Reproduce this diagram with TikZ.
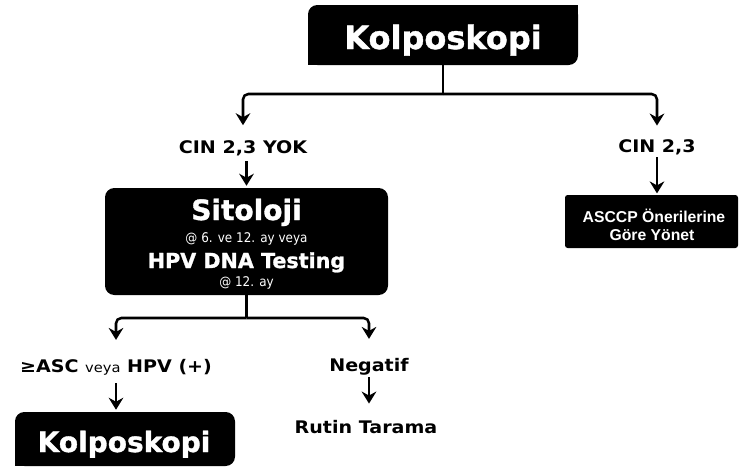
\documentclass[tikz,border=0pt]{standalone}
\usepackage{fontspec}
\setmainfont{DejaVu Sans}
\newfontfamily\lblfont[FakeStretch=1.1]{DejaVu Sans}
\newfontfamily\heavyfont[UprightFont=* Bold, FakeBold=1.2]{DejaVu Sans}
\newfontfamily\condfont[FakeStretch=0.9]{DejaVu Sans}
\newfontfamily\arialfont{Liberation Sans}
\usetikzlibrary{arrows.meta}

\begin{document}
\begin{tikzpicture}[x=0.75pt,y=-0.75pt,
  blackbox/.style={fill=black, inner sep=0pt, rounded corners=7pt},
  boxtxt/.style={text=white, inner sep=0pt, anchor=base},
  bigtxt/.style={boxtxt, font=\heavyfont\fontsize{#1}{#1}\selectfont},
  smalltxt/.style={boxtxt, font=\condfont\fontsize{10}{11}\selectfont},
  asctxt/.style={boxtxt, font=\arialfont\bfseries\fontsize{11.8}{12}\selectfont},
  lbl/.style={inner sep=0pt, anchor=base, font=\lblfont\bfseries\fontsize{13}{15}\selectfont},
  wire/.style={line width=1.9pt, rounded corners=4pt},
  arr/.style={wire, -{Stealth[length=9pt,width=11pt,inset=3pt]}}
]
\useasboundingbox (0,0) rectangle (740,471);

% top colposcopy box (two corners left sharp)
\node[blackbox, minimum width=202.5pt, minimum height=45pt] (k1) at (443,35) {};
\fill (k1.north east) rectangle ++(-12,12);
\fill (k1.south west) rectangle ++(12,-12);
\node[bigtxt=24] (k1t) at (443,49) {Kolposkopi};

% follow-up box
\node[blackbox, minimum width=212.25pt, minimum height=80.25pt] (sit) at (246.5,241.5) {};
\node[bigtxt=21] (sitt) at (246.5,220) {Sitoloji};
\node[smalltxt] (sitw1) at (246.5,242) {@ 6. ve 12. ay veya};
\node[bigtxt=15.5] (hpv) at (246.5,268) {HPV DNA Testing};
\node[smalltxt] (sitw2) at (246.5,286) {@ 12. ay};

% management box
\node[blackbox, rounded corners=2pt, minimum width=129.75pt, minimum height=39.75pt] (asccp) at (651.5,221.5) {};
\node[asctxt] (asccp1) at (654,222) {ASCCP Önerilerine};
\node[asctxt] (asccp2) at (652,240) {Göre Yönet};

% bottom colposcopy box
\node[blackbox, minimum width=165pt, minimum height=40.5pt] (k2) at (125,439) {};
\fill (k2.south west) rectangle ++(10,-10);
\node[bigtxt=21] (k2t) at (124,452) {Kolposkopi};

% branch labels
\node[lbl] (cinyok) at (243,153) {CIN 2,3 YOK};
\node[lbl] (cin23) at (657,152) {CIN 2,3};
\node[lbl] (asc) at (116,372) {≥ASC {\mdseries\fontsize{10}{10}\selectfont veya} HPV (+)};
\node[lbl] (neg) at (369,371) {Negatif};
\node[lbl] (rutin) at (366,433) {Rutin Tarama};

% connectors
\coordinate (j1) at (443,94);
\draw[wire] (k1.south) -- (j1);
\draw[arr, shorten >=11pt] (j1) -| (cinyok.north);
\draw[arr, shorten >=10pt] (j1) -| (cin23.north);
\draw[arr, shorten <=4pt, shorten >=1.5pt] (cinyok.south -| sit.north) -- (sit.north);
\draw[arr, shorten <=2pt, shorten >=1pt] (cin23.south) -- (cin23.south |- asccp.north);

\coordinate (j2) at (246.5,318);
\draw[wire] (sit.south) -- (j2);
\draw[arr, shorten >=14pt] (j2) -| (asc.north);
\draw[arr, shorten >=14pt] (j2) -| (neg.north);
\draw[arr, shorten <=6pt, shorten >=1.5pt] (asc.south) -- (asc.south |- k2.north);
\draw[arr, shorten <=1.5pt, shorten >=12pt] (neg.south) -- (neg.south |- rutin.north);
\end{tikzpicture}
\end{document}
